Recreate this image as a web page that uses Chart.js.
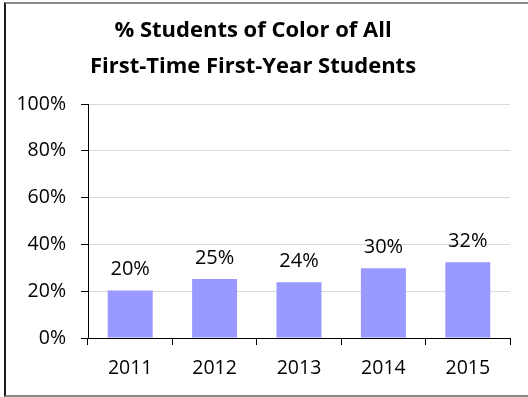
<!DOCTYPE html>
<html>
<head>
<meta charset="utf-8">
<script src="https://cdn.jsdelivr.net/npm/chart.js@4.4.1/dist/chart.umd.min.js"></script>
<style>
  html, body { margin: 0; padding: 0; background: #fff; }
  #wrap { position: relative; width: 528px; height: 397px; overflow: hidden; }
  #frame { position: absolute; left: 4px; top: 2px; width: 530px; height: 391px;
           border-top: 2px solid #8a8a8a; border-left: 2px solid #1a1a1a; border-bottom: 2px solid #8a8a8a; box-sizing: content-box; }
  canvas { position: absolute; left: 0; top: 0; }
</style>
</head>
<body>
<div id="wrap">
  <div id="frame"></div>
  <canvas id="c" width="528" height="397"></canvas>
</div>
<script>
const titleLines = ['% Students of Color of All', 'First-Time First-Year Students'];
const categories = ['2011', '2012', '2013', '2014', '2015'];
const values = [20.3, 25.2, 23.8, 29.8, 32.4];
const dataLabels = ['20%', '25%', '24%', '30%', '32%'];
const yTickLabels = ['0%', '20%', '40%', '60%', '80%', '100%'];

const FONT = "'Open Sans', sans-serif";

const titlePlugin = {
  id: 'customTitle',
  afterDraw(chart) {
    const ctx = chart.ctx;
    ctx.save();
    ctx.fillStyle = '#000';
    ctx.font = "bold 22px " + FONT;
    ctx.textAlign = 'center';
    ctx.textBaseline = 'middle';
    ctx.fillText(titleLines[0], 253, 31);
    ctx.fillText(titleLines[1], 253, 67);
    ctx.restore();
  }
};

const labelPlugin = {
  id: 'barLabels',
  afterDatasetsDraw(chart) {
    const ctx = chart.ctx;
    const meta = chart.getDatasetMeta(0);
    ctx.save();
    ctx.fillStyle = '#000';
    ctx.font = "20px " + FONT;
    ctx.textAlign = 'center';
    ctx.textBaseline = 'alphabetic';
    meta.data.forEach((bar, i) => {
      ctx.fillText(dataLabels[i], bar.x, bar.y - 15);
    });
    ctx.restore();
  }
};

new Chart(document.getElementById('c'), {
  type: 'bar',
  data: {
    labels: categories,
    datasets: [{
      data: values,
      backgroundColor: '#9999FF',
      borderWidth: 0,
      categoryPercentage: 1,
      barPercentage: 0.533
    }]
  },
  options: {
    responsive: false,
    animation: false,
    devicePixelRatio: 1,
    layout: { padding: { left: 0, right: 18, top: 104, bottom: 0 } },
    plugins: {
      legend: { display: false },
      title: { display: false },
      tooltip: { enabled: false }
    },
    scales: {
      x: {
        grid: { display: true, drawOnChartArea: false, offset: true, tickLength: 7, tickColor: '#000', lineWidth: 1 },
        border: { display: true, color: '#000', width: 1 },
        ticks: { color: '#000', font: { family: FONT, size: 19.5 }, padding: 12 },
        afterFit(scale) { scale.height = 59; }
      },
      y: {
        min: 0, max: 100,
        grid: { color: '#d9d9d9', lineWidth: 1, tickLength: 7, tickColor: '#000' },
        border: { display: true, color: '#000', width: 1 },
        ticks: {
          stepSize: 20,
          color: '#000',
          font: { family: FONT, size: 19.5 },
          padding: 15,
          callback: (v) => yTickLabels[Math.round(v / 20)]
        },
        afterFit(scale) { scale.width = 88; }
      }
    }
  },
  plugins: [titlePlugin, labelPlugin]
});
</script>
</body>
</html>
